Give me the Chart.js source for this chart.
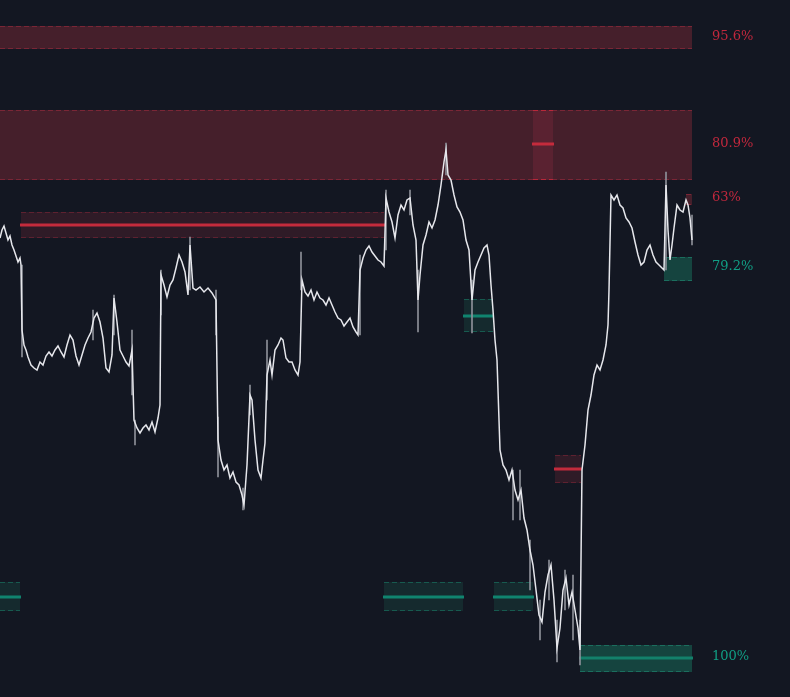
<!DOCTYPE html>
<html>
<head>
<meta charset="utf-8">
<script src="https://cdn.jsdelivr.net/npm/chart.js@4.4.1/dist/chart.umd.min.js"></script>
<style>
  html, body { margin: 0; padding: 0; background: #131722; }
  #wrap { width: 790px; height: 697px; position: relative; }
</style>
</head>
<body>
<div id="wrap"><canvas id="myChart"></canvas></div>
<script>
// bar position and close price
const barX = [0,2,4,6,8,10,12,14,16,18,20,21,
  22,24,26,28,31,34,37,40,43,46,49,52,55,58,61,64,67,70,73,76,79,82,85,88,91,94,97,100,103,106,109,112,114,117,120,123,126,129,132,
  134,137,140,143,146,149,152,155,158,160,
  161,164,167,170,173,176,179,182,185,188,190,193,196,200,204,208,212,216,
  218,221,224,227,230,233,236,239,242,244,247,250,252,255,258,261,263,265,267,270,272,275,278,281,283,286,289,292,295,298,300,
  302,305,308,311,314,317,320,323,326,329,332,335,338,341,344,347,350,353,356,358,
  360,363,366,369,372,375,378,381,384,
  386,389,392,395,398,401,404,407,410,413,416,418,420,423,426,429,432,435,438,441,444,446,448,451,454,457,460,463,466,469,472,475,478,481,484,487,489,491,493,495,497,
  500,503,506,509,512,515,518,521,524,527,530,533,536,539,542,545,548,551,554,557,560,563,566,569,572,575,578,580,
  582,585,588,591,594,597,600,603,606,608,609,
  611,614,617,620,623,626,629,632,635,638,641,644,647,650,653,656,659,662,664,666,668,670,672,674,677,680,683,686,688,690,692];

const closePrice = [462,470,474,467,460,464,455,450,444,438,442,435,
  370,355,350,343,335,332,330,338,335,344,348,344,350,354,348,343,355,365,360,344,335,345,355,362,368,382,387,378,362,332,328,345,402,378,350,344,338,334,350,
  280,272,267,272,275,270,278,268,282,295,
  425,415,403,415,420,432,445,438,428,405,455,412,410,413,408,412,407,400,
  260,240,230,235,222,228,218,215,205,195,235,305,300,260,230,222,240,257,325,340,325,350,355,362,360,342,338,338,330,325,338,
  420,408,404,410,400,408,402,400,395,402,395,388,382,380,374,378,382,373,368,365,
  430,442,450,454,448,444,440,438,434,
  502,488,478,462,485,495,490,500,502,475,460,400,425,455,465,478,472,480,495,515,538,550,525,520,505,493,488,480,460,450,400,430,438,445,452,455,445,415,390,360,340,
  250,235,230,220,230,210,200,210,182,170,150,135,110,85,78,108,125,135,100,52,72,110,122,95,108,90,72,50,
  230,255,290,305,325,335,330,340,355,375,410,
  505,500,505,495,492,482,478,472,458,445,435,438,450,455,445,438,435,432,430,515,470,440,455,472,495,490,488,500,495,482,460];

// wicks: where the highs and lows stick out of the close line
const wickX    = [22, 93, 114, 132, 135, 161, 190, 216, 218, 243, 250, 267, 301, 360, 386, 410, 418, 446, 472, 513, 520, 530, 540, 549, 557, 565, 573, 580, 666, 692];
const wickHigh = [435, 390, 405, 370, 280, 430, 463, 410, 283, 212, 315, 360, 448, 445, 510, 510, 430, 557, 420, 230, 230, 160, 100, 140, 80, 130, 125, 80, 528, 485];
const wickLow  = [343, 360, 365, 305, 255, 385, 410, 365, 223, 190, 285, 300, 410, 365, 450, 485, 368, 525, 367, 180, 180, 110, 60, 100, 38, 90, 60, 35, 430, 455];

// zones: x from/to, top/bottom price, middle line (null = none)
const zoneFrom   = [0, 0, 533, 686, 21, 664, 464, 555, 0, 384, 494, 580];
const zoneTo     = [692, 692, 553, 692, 384, 692, 493, 581, 20, 463, 533, 692];
const zoneTop    = [674, 590, 590, 506, 488, 443, 401, 245, 118, 118, 118, 55];
const zoneBottom = [651, 520, 520, 495, 462, 419, 368, 217, 89, 89, 89, 28];
const zoneMid    = [null, null, 556, null, 475, null, 384, 231, 103, 103, 103, 42];
const zoneKind   = ['supply', 'supply', 'supplyHit', 'supply', 'supplyOld', 'demand', 'demandOld', 'supplyOld', 'demandOld', 'demandOld', 'demandOld', 'demand'];

// right side labels
const labelText  = ['95.6%', '80.9%', '63%', '79.2%', '100%'];
const labelPrice = [663, 556, 502, 433, 43];
const labelKind  = ['supply', 'supply', 'supply', 'demand', 'demand'];

const styles = {
  supply:    { fill: '#451f2b', edge: '#7a2636', mid: '#c42b3c' },
  supplyHit: { fill: '#5a2231', edge: '#b8283a', mid: '#c42b3c' },
  supplyOld: { fill: '#2f1b27', edge: '#5e2130', mid: '#c42b3c' },
  demand:    { fill: '#15443f', edge: '#1b6e5e', mid: '#13806b' },
  demandOld: { fill: '#152a2e', edge: '#175a4f', mid: '#10846f' }
};
const textColor = { supply: '#c2283d', demand: '#119f85' };

const points = barX.map((x, i) => ({ x: x, y: closePrice[i] }));
const wicks = wickX.map((x, i) => ({ x: x, y: [wickLow[i], wickHigh[i]] }));

const zonePlugin = {
  id: 'zones',
  beforeDatasetsDraw(chart) {
    const ctx = chart.ctx;
    const xs = chart.scales.x, ys = chart.scales.y;
    ctx.save();
    for (let i = 0; i < zoneFrom.length; i++) {
      const st = styles[zoneKind[i]];
      const x0 = xs.getPixelForValue(zoneFrom[i]);
      const x1 = xs.getPixelForValue(zoneTo[i]);
      const y0 = ys.getPixelForValue(zoneTop[i]);
      const y1 = ys.getPixelForValue(zoneBottom[i]);
      ctx.fillStyle = st.fill;
      ctx.fillRect(x0, y0, x1 - x0, y1 - y0);
      ctx.strokeStyle = st.edge;
      ctx.lineWidth = 1;
      ctx.setLineDash([5, 3]);
      ctx.beginPath();
      ctx.moveTo(x0, y0 + 0.5); ctx.lineTo(x1, y0 + 0.5);
      ctx.moveTo(x0, y1 - 0.5); ctx.lineTo(x1, y1 - 0.5);
      ctx.stroke();
      ctx.setLineDash([]);
      if (zoneMid[i] !== null) {
        const ym = ys.getPixelForValue(zoneMid[i]);
        ctx.fillStyle = st.mid;
        ctx.fillRect(x0 - 1, ym - 1.5, x1 - x0 + 2, 3);
      }
    }
    ctx.restore();
  },
  afterDraw(chart) {
    const ctx = chart.ctx;
    const ys = chart.scales.y;
    ctx.save();
    ctx.font = '13px "DejaVu Serif"';
    ctx.textBaseline = 'middle';
    for (let i = 0; i < labelText.length; i++) {
      ctx.fillStyle = textColor[labelKind[i]];
      ctx.fillText(labelText[i], 712, ys.getPixelForValue(labelPrice[i]));
    }
    ctx.restore();
  }
};

new Chart(document.getElementById('myChart'), {
  data: {
    datasets: [{
      type: 'line',
      label: 'price',
      data: points,
      borderColor: '#e6e7ec',
      borderWidth: 1.5,
      pointRadius: 0,
      tension: 0,
      order: 1
    }, {
      type: 'bar',
      label: 'wicks',
      data: wicks,
      backgroundColor: '#8d9099',
      barThickness: 1,
      borderWidth: 0,
      order: 2
    }]
  },
  options: {
    responsive: true,
    maintainAspectRatio: false,
    devicePixelRatio: 1,
    animation: false,
    layout: { padding: 0 },
    plugins: { legend: { display: false }, tooltip: { enabled: false } },
    scales: {
      x: { type: 'linear', min: 0, max: 790, display: false, offset: false },
      y: { type: 'linear', min: 3, max: 700, display: false }
    }
  },
  plugins: [zonePlugin]
});
</script>
</body>
</html>
